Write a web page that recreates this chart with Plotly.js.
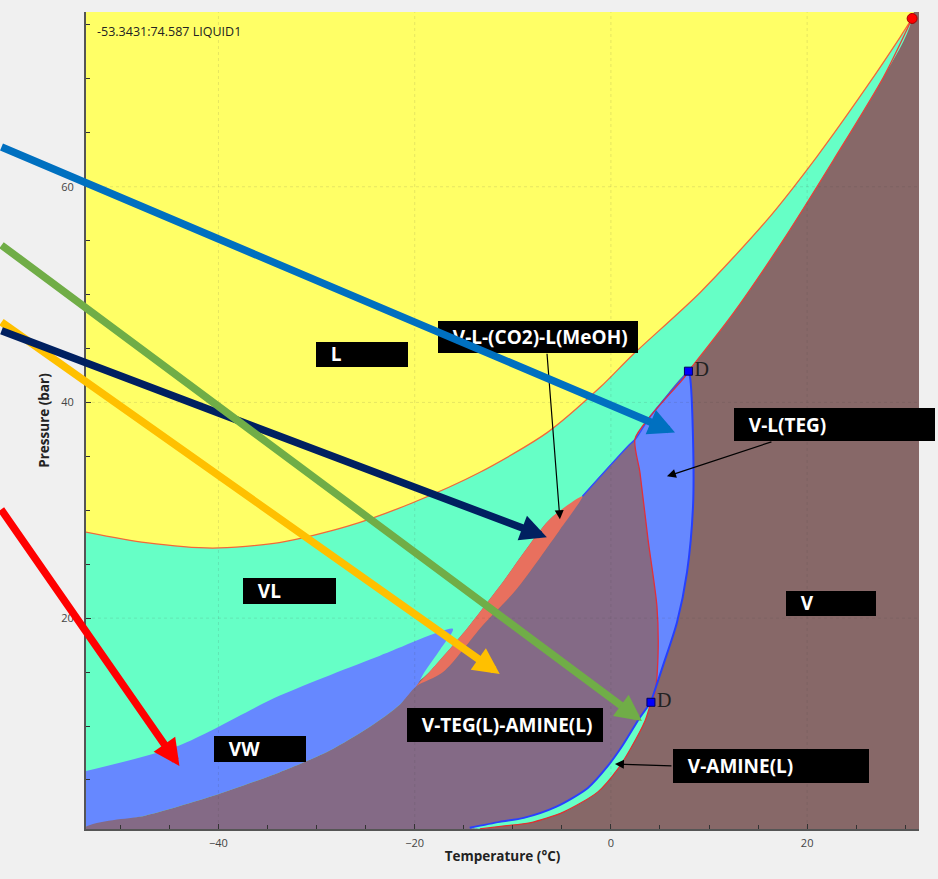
<!DOCTYPE html>
<html>
<head>
<meta charset="utf-8">
<script src="https://cdn.plot.ly/plotly-3.0.1.min.js"></script>
<style>html,body{margin:0;padding:0;background:#f0f0f0;}#chart{width:938px;height:879px;}</style>
</head>
<body>
<div id="chart"></div>
<script>
// ---------- data (Temperature °C / Pressure bar) ----------
// L / VL boundary (bubble curve)
const bubT = [-53.6, -47.4, -40.6, -33.8, -26.9, -20.2, -13.4, -6.5, -1.1, 2.2, 9.1, 15.9, 21.0, 26.1, 29.5, 30.7];
const bubP = [28.0, 27.0, 26.5, 27.0, 28.5, 30.7, 33.5, 37.2, 41.4, 44.4, 50.2, 56.9, 62.8, 69.3, 73.9, 75.6];
// VL / V boundary (dew line, from D to critical point)
const dewT = [7.9, 12.5, 17.6, 22.7, 27.8, 30.7];
const dewP = [42.9, 48.3, 55.1, 62.5, 70.2, 75.6];
// VL lower boundary from D down to the tip of the V-L(CO2)-L(MeOH) band
const vlLowT = [7.9, 4.0, 2.5, 1.9, -2.9];
const vlLowP = [42.9, 38.7, 36.6, 36.1, 31.3];
// V-L(CO2)-L(MeOH) band, outer and inner edges (from tip downwards)
const meohOutT = [-2.9, -6.2, -11.3, -14.7, -18.5, -20.8];
const meohOutP = [31.3, 29.2, 23.0, 19.0, 15.0, 12.8];
const meohInT = [-2.9, -5.2, -9.6, -13.1, -17.1, -19.8];
const meohInP = [31.3, 28.2, 22.7, 19.3, 15.0, 13.7];
// VW region: upper edge, tip, lower edge
const vwUpT = [-53.6, -44.0, -33.8, -23.6, -16.1];
const vwUpP = [5.8, 8.2, 12.8, 16.5, 19.0];
const vwTipT = [-17.4, -19.0];
const vwTipP = [17.1, 15.0];
const vwLowT = [-19.8, -21.5, -24.6, -28.7, -33.8, -40.6, -47.4, -53.6];
const vwLowP = [13.7, 12.0, 9.9, 7.7, 5.7, 3.5, 1.7, 0.65];
// V-L(TEG) region: left edge and right edge (D to D)
const tegLeftT = [7.9, 7.55, 4.0, 2.45, 2.96, 3.78, 4.69, 4.80, 4.49, 4.08];
const tegLeftP = [42.9, 42.4, 38.7, 36.6, 33.5, 27.3, 21.1, 16.5, 13.15, 12.2];
const tegRightT = [7.9, 8.06, 8.37, 8.37, 7.76, 6.73, 5.31, 4.29, 4.08];
const tegRightP = [42.9, 42.4, 36.6, 30.4, 24.3, 19.6, 15.6, 12.8, 12.2];
// V-AMINE(L) band: inner and outer edges
const amInT = [4.08, 2.86, 1.22, -0.31, -2.35, -5.61, -8.88, -11.33, -14.39];
const amInP = [12.2, 10.65, 8.24, 6.30, 4.26, 2.50, 1.48, 1.11, 0.56];
const amOutT = [4.08, 3.47, 2.04, 0.71, -1.33, -4.80, -8.27, -10.82, -13.37];
const amOutP = [12.2, 10.46, 7.96, 6.02, 3.89, 2.04, 1.02, 0.74, 0.46];
// special points
const critT = [30.7], critP = [75.6];
const dT = [7.9, 4.08], dP = [42.9, 12.2], dText = ['D', 'D'];
// region labels
const regionLabels = ['L', 'V-L-(CO2)-L(MeOH)', 'V-L(TEG)', 'VL', 'V', 'VW', 'V-TEG(L)-AMINE(L)', 'V-AMINE(L)'];
const cursorText = '-53.3431:74.587 LIQUID1';
// axes
const xRange = [-53.5, 31.4];
const yRange = [0.45, 76.2];
const xGrid = [-40, -20, 0, 20];
const yGrid = [20, 40, 60];

// ---------- build ----------
const FL = -70, FB = -10, FT = 100;
const rev = a => a.slice().reverse();
const C = {
  V: '#876868', purple: '#846a86', yellow: '#ffff66', green: '#66ffc6',
  blue: '#6688ff', salmon: '#e8705e'
};
const SM = 0.75;
function poly(x, y, color) {
  return {type: 'scatter', mode: 'lines', x: x, y: y, fill: 'toself', fillcolor: color,
          line: {width: 0, color: color, shape: 'spline', smoothing: SM}, hoverinfo: 'skip', showlegend: false};
}
function line(x, y, color, w) {
  return {type: 'scatter', mode: 'lines', x: x, y: y, line: {width: w, color: color, shape: 'spline', smoothing: SM},
          hoverinfo: 'skip', showlegend: false};
}
const greenT = [FL, FL, critT[0]].concat(rev(dewT), vlLowT.slice(1), meohOutT.slice(1), [meohOutT[meohOutT.length - 1], FL]);
const greenP = [FB, FT, FT].concat(rev(dewP), vlLowP.slice(1), meohOutP.slice(1), [FB, FB]);
const yellowT = bubT.concat([critT[0], FL]);
const yellowP = bubP.concat([FT, FT]);
const vwT = vwUpT.concat(vwTipT, vwLowT);
const vwP = vwUpP.concat(vwTipP, vwLowP);
const purpleT = [FL].concat(rev(vwLowT), rev(meohInT).slice(1), rev(vlLowT).slice(1), tegRightT.slice(1), amOutT.slice(1), [amOutT[amOutT.length - 1]]);
const purpleP = [FB].concat(rev(vwLowP), rev(meohInP).slice(1), rev(vlLowP).slice(1), tegRightP.slice(1), amOutP.slice(1), [FB]);
const tegT = tegLeftT.concat(rev(tegRightT).slice(1));
const tegP = tegLeftP.concat(rev(tegRightP).slice(1));
const salT = meohOutT.concat(rev(meohInT));
const salP = meohOutP.concat(rev(meohInP));
const amT = amInT.concat(rev(amOutT));
const amP = amInP.concat(rev(amOutP));

const traces = [
  poly(greenT, greenP, C.green),
  poly(yellowT, yellowP, C.yellow),
  poly(vwT, vwP, C.blue),
  poly(purpleT, purpleP, C.purple),
  poly(tegT, tegP, C.blue),
  poly(salT, salP, C.salmon),
  poly(amT, amP, C.green),
  line(bubT, bubP, '#f2683a', 1.3),
  line(dewT, dewP, '#e8403a', 1.3),
  line(vlLowT, vlLowP, '#3050ff', 1.5),
  line(tegLeftT, tegLeftP, '#e0303a', 1.3),
  line(tegRightT, tegRightP, '#2540ff', 2),
  line(amInT, amInP, '#2a40ff', 2),
  line(amOutT, amOutP, '#e03030', 1.2),
  {type: 'scatter', mode: 'markers', x: critT, y: critP, cliponaxis: false,
   marker: {symbol: 'circle', size: 10, color: '#ff0000', line: {color: '#a00000', width: 1}},
   hoverinfo: 'skip', showlegend: false},
  {type: 'scatter', mode: 'markers+text', x: dT, y: dP, text: dText, textposition: 'middle right',
   cliponaxis: false,
   textfont: {family: 'Liberation Serif', size: 20, color: '#222'},
   marker: {symbol: 'square', size: 8, color: '#0000ff', line: {color: '#000060', width: 1}},
   hoverinfo: 'skip', showlegend: false}
];

// label boxes
const boxFont = {family: 'Open Sans', size: 19, color: '#ffffff'};
const boxes = [
  {x: -30.10, y: 45.56, w: 92, h: 25, v: 'bottom'},
  {x: -17.65, y: 47.59, w: 200, h: 32, v: 'middle'},
  {x: 12.55, y: 39.44, w: 201, h: 33, v: 'middle'},
  {x: -37.45, y: 23.70, w: 93, h: 26, v: 'bottom'},
  {x: 17.86, y: 22.50, w: 90, h: 25, v: 'bottom'},
  {x: -40.41, y: 9.07, w: 92, h: 26, v: 'bottom'},
  {x: -20.82, y: 11.67, w: 196, h: 34, v: 'middle'},
  {x: 6.33, y: 7.87, w: 196, h: 34, v: 'middle'}
];
const annotations = boxes.map((b, i) => ({
  xref: 'x', yref: 'y', x: b.x, y: b.y, xanchor: 'left', yanchor: 'top',
  width: b.w, height: b.h, bgcolor: '#000000', borderpad: 0, borderwidth: 0,
  align: 'left', valign: b.v, showarrow: false,
  text: '<b>&nbsp;&nbsp;&nbsp;' + regionLabels[i] + '</b>', font: boxFont
}));
// thin black pointer arrows
[
  {x: -5.2, y: 29.17, ax: -13, ay: -167},
  {x: 5.71, y: 33.15, ax: 106, ay: -35},
  {x: 0.41, y: 6.48, ax: 58, ay: 2}
].forEach(a => annotations.push({
  xref: 'x', yref: 'y', x: a.x, y: a.y, ax: a.ax, ay: a.ay, text: '', showarrow: true,
  arrowhead: 2, arrowsize: 1.5, arrowwidth: 1.2, arrowcolor: '#000000', standoff: 0
}));
// thick coloured arrows coming from the left
[
  {x: -11.33, y: 14.81, ax: -500, ay: -353, c: '#ffc000'},
  {x: -6.53, y: 27.5, ax: -547, ay: -207, c: '#002060'},
  {x: 3.16, y: 10.46, ax: -642, ay: -477, c: '#70ad47'},
  {x: -43.98, y: 6.30, ax: -180, ay: -258, c: '#ff0000'},
  {x: 6.53, y: 37.22, ax: -675, ay: -286, c: '#0070c0'}
].forEach(a => annotations.push({
  xref: 'x', yref: 'y', x: a.x, y: a.y, ax: a.ax, ay: a.ay, text: '', showarrow: true,
  arrowhead: 2, arrowsize: 0.7, arrowwidth: 7.5, arrowcolor: a.c, standoff: 0
}));
annotations.push({
  xref: 'paper', yref: 'paper', x: 0, y: 1, xanchor: 'left', yanchor: 'top', xshift: 9, yshift: -9,
  text: cursorText, showarrow: false, font: {family: 'Open Sans', size: 12.5, color: '#222'}
});

const shapes = xGrid.map(v => ({type: 'line', xref: 'x', yref: 'paper', x0: v, x1: v, y0: 0, y1: 1,
  layer: 'above', line: {color: 'rgba(60,60,60,0.13)', width: 1, dash: 'dot'}}))
  .concat(yGrid.map(v => ({type: 'line', xref: 'paper', yref: 'y', x0: 0, x1: 1, y0: v, y1: v,
  layer: 'above', line: {color: 'rgba(60,60,60,0.13)', width: 1, dash: 'dot'}})));

const tickFont = {family: 'Open Sans', size: 11, color: '#444'};
const titleFont = {family: 'Open Sans', size: 13.5, color: '#222'};
const layout = {
  width: 938, height: 879,
  margin: {l: 86, r: 19, t: 12, b: 50},
  paper_bgcolor: '#f0f0f0', plot_bgcolor: C.V,
  showlegend: false,
  xaxis: {range: xRange, dtick: 20, tick0: 0, ticks: 'inside', ticklen: 5, tickcolor: '#333',
    showline: true, linecolor: '#555', linewidth: 2, showgrid: false, zeroline: false,
    tickfont: tickFont, ticklabelstandoff: 3,
    minor: {dtick: 5, tick0: 0, ticks: 'inside', ticklen: 4, tickcolor: '#333', showgrid: false},
    title: {text: '<b>Temperature (°C)</b>', font: titleFont, standoff: 2}},
  yaxis: {range: yRange, dtick: 20, tick0: 0, ticks: 'inside', ticklen: 5, tickcolor: '#333',
    showline: true, linecolor: '#555', linewidth: 2, showgrid: false, zeroline: false,
    tickfont: tickFont, ticklabelstandoff: 8,
    minor: {dtick: 5, tick0: 0, ticks: 'inside', ticklen: 4, tickcolor: '#333', showgrid: false},
    title: {text: '<b>Pressure (bar)</b>', font: titleFont, standoff: 8}},
  annotations: annotations,
  shapes: shapes
};
Plotly.newPlot('chart', traces, layout, {displayModeBar: false, staticPlot: true});
</script>
</body>
</html>
